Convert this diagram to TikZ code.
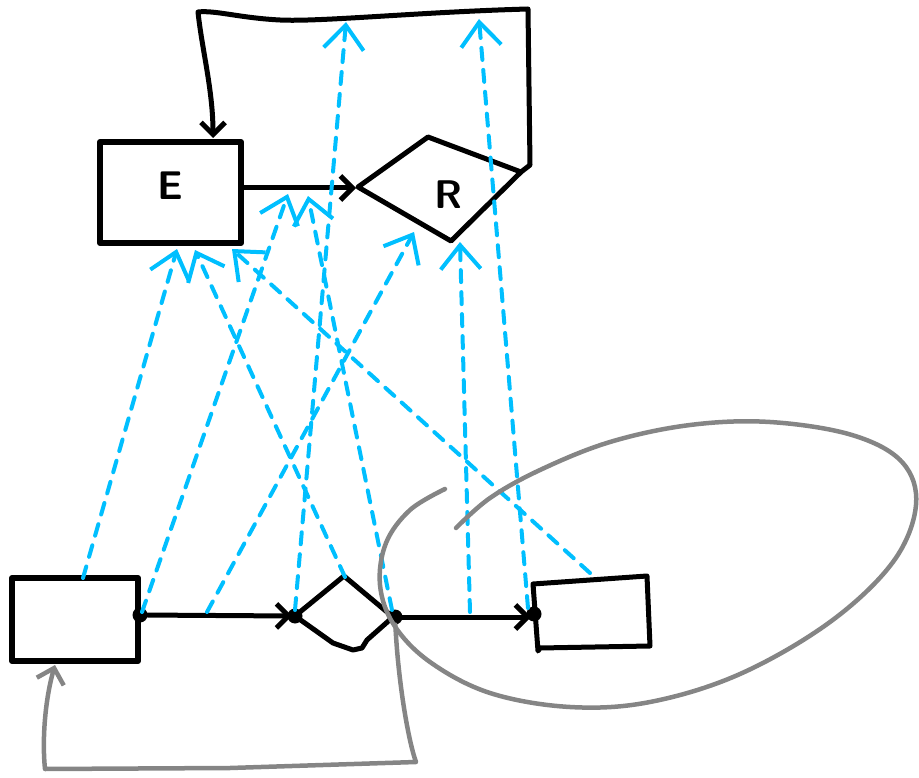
\documentclass[tikz,border=0pt]{standalone}
\usetikzlibrary{arrows.meta}
\definecolor{skyb}{HTML}{00BFFF}
\definecolor{grayl}{HTML}{858585}
\tikzset{
 blk/.style={line width=5pt, line cap=round, line join=round},
 boxs/.style={draw, line width=6pt, line join=round, inner sep=0pt},
 blu/.style={skyb, line width=4pt, line cap=round, dash pattern=on 12pt off 10pt, -{Straight Barb[length=24pt,width=40pt,line width=4pt]}},
 gry/.style={grayl, line width=4.5pt, line cap=round, line join=round},
 dotn/.style={circle, fill=black, inner sep=0pt, minimum size=15pt},
 barb/.style={-{Straight Barb[length=12pt,width=24pt,line width=5pt]}},
 gbarb/.style={-{Straight Barb[length=14pt,width=28pt,line width=4.5pt]}},
 lbl/.style={font=\fontsize{40}{40}\selectfont\sffamily\bfseries, inner sep=0pt}
}
\begin{document}
\begin{tikzpicture}[x=1pt,y=-1pt]
\useasboundingbox (0,0) rectangle (919,778);
% boxes
\node[boxs, minimum width=141pt, minimum height=101pt] (E) at (170.5,192.5) {};
\node[lbl] (Elab) at (170,186) {E};
\node[boxs, minimum width=126pt, minimum height=83pt] (A) at (75,619.5) {};
% R diamond
\coordinate (Rl) at (358,187);
\coordinate (Rt) at (428,137);
\coordinate (Rr) at (521,172);
\coordinate (Rb) at (451,241);
\draw[blk] (Rl) -- (Rt) -- (Rr) -- (Rb) -- cycle;
\node[lbl] (Rlab) at (449,195) {R};
% lower diamond
\coordinate (Dl) at (295,616);
\coordinate (Dt) at (344,576);
\coordinate (Dr) at (393,617);
\draw[blk] (Dl) -- (Dt) -- (Dr) -- (367,640) -- (362,648) -- (353,650) -- (333,643) -- cycle;
% right box
\coordinate (B1) at (533,584);
\coordinate (B2) at (647,576);
\coordinate (B3) at (650,646);
\coordinate (B4) at (538,651);
\draw[blk] (B1) -- (B2) -- (B3) -- (540,648) -- (B4) -- cycle;
% dots
\node[dotn] (d1) at (140,615) {};
\node[dotn] (d2) at (295,616) {};
\node[dotn] (d3) at (395,617) {};
\node[dotn] (d4) at (534,614) {};
% black connectors
\coordinate (Eout) at (243,188);
\coordinate (Rin) at (356,188);
\draw[blk, barb] (Eout) -- (Rin);
\draw[blk, barb] (d1) -- (292,616);
\draw[blk, barb] (d3) -- (531,617);
\coordinate (Ein) at (213,138);
\draw[blk, barb] (Rr) -- (530,165) -- (528,9) .. controls (420,12) and (320,22) .. (280,20) .. controls (240,18) and (215,10) .. (198,12) .. controls (202,50) and (213,90) .. (Ein);
% blue dashed connectors
\coordinate (a1s) at (83,578);  \coordinate (a1e) at (177,249);
\coordinate (a2s) at (142,612); \coordinate (a2e) at (288,194);
\coordinate (a3s) at (207,612); \coordinate (a3e) at (414,232);
\coordinate (a4s) at (295,610); \coordinate (a4e) at (346,22);
\coordinate (a5s) at (345,577); \coordinate (a5e) at (195,250);
\coordinate (a6s) at (392,610); \coordinate (a6e) at (308,196);
\coordinate (a7s) at (470,612); \coordinate (a7e) at (460,242);
\coordinate (a8s) at (528,608); \coordinate (a8e) at (479,19);
\coordinate (a9s) at (590,573); \coordinate (a9e) at (232,249);
\foreach \i in {1,...,9} {\draw[blu] (a\i s) -- (a\i e);}
% gray lasso
\draw[gry] plot[smooth, tension=0.6] coordinates {(445,489) (410,510) (386,543) (380,585) (394,625) (430,662) (490,693) (570,707) (650,702) (740,674) (830,622) (893,562) (916,505) (902,462) (852,435) (770,422) (690,425) (610,442) (540,470) (490,498) (456,528)};
% gray return line
\coordinate (Ain) at (55,665);
\draw[gry, gbarb] (d3) .. controls (398,680) and (408,740) .. (416,762) -- (230,768) -- (45,769) .. controls (42,740) and (45,700) .. (Ain);
\end{tikzpicture}
\end{document}
